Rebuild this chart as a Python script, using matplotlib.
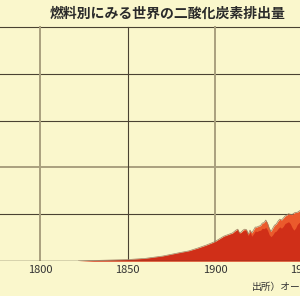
import matplotlib.pyplot as plt

plt.rcParams['font.family'] = ['Noto Sans CJK JP', 'DejaVu Sans']

# 年と排出量（グリッド1目盛 = 1000）
years = [1822, 1830, 1840, 1850, 1860, 1870, 1880, 1885, 1890, 1895,
         1900, 1905, 1910, 1912, 1913, 1914, 1915, 1916, 1917, 1918,
         1919, 1920, 1921, 1922, 1923, 1924, 1925, 1926, 1927, 1928,
         1929, 1930, 1931, 1932, 1933, 1934, 1935, 1936, 1937, 1938,
         1939, 1940, 1941, 1942, 1943, 1944, 1945, 1946, 1947, 1948,
         1950, 1955]
coal = [0, 10, 20, 30, 55, 105, 180, 215, 270, 335,
        410, 525, 590, 650, 665, 590, 605, 640, 655, 640,
        540, 620, 530, 580, 640, 630, 650, 655, 700, 690,
        720, 660, 560, 520, 560, 620, 640, 690, 730, 700,
        740, 800, 820, 840, 800, 720, 660, 700, 780, 820,
        860, 900]
total = [0, 10, 20, 30, 55, 105, 180, 215, 275, 340,
         415, 530, 600, 660, 680, 600, 620, 660, 680, 670,
         575, 660, 600, 660, 725, 725, 745, 755, 810, 820,
         875, 810, 700, 630, 700, 765, 790, 850, 895, 875,
         915, 960, 980, 1010, 1000, 990, 1020, 1040, 1040, 1065,
         1110, 1200]

xticks = [1800, 1850, 1900, 1950]
title = '燃料別にみる世界の二酸化炭素排出量'
source = '出所）オークリッジ国立研究所'

bg = '#FAF7CC'
dark = '#4A4232'
gray = '#A9A07E'

fig = plt.figure(figsize=(3.0, 2.96), dpi=100, facecolor=bg)
# 軸は右にはみ出させる（1950年のラベルが途中で切れるように）
ax = fig.add_axes([0, 35 / 296, 310 / 300, 241 / 296])
ax.set_facecolor(bg)
ax.set_xlim(1800 - 40 / 1.75, 1800 + 270 / 1.75)
ax.set_ylim(0, 241 / 46.8 * 1000)

for y in [1000, 3000, 4000, 5000]:
    ax.axhline(y, color=dark, lw=0.8, zorder=1)
ax.axhline(2000, color=gray, lw=1.4, zorder=1)
ymax = 5000 / ax.get_ylim()[1]
for x in [1800, 1900]:
    ax.axvline(x, 0, ymax, color=gray, lw=1.4, zorder=1)
for x in [1850, 1950]:
    ax.axvline(x, 0, ymax, color=dark, lw=0.8, zorder=1)

ax.fill_between(years, 0, total, color='#EB5A2C', lw=0, zorder=2)
ax.fill_between(years, 0, coal, color='#D02F18', lw=0, zorder=3)
ax.plot(years, total, color='#9C7D62', lw=0.5, zorder=4)
ax.axhline(0, color=dark, lw=1.0, zorder=5)

for s in ax.spines.values():
    s.set_visible(False)
ax.set_yticks([])
ax.set_xticks(xticks)
ax.set_xticklabels([str(t) for t in xticks], fontsize=8, color='#333333')
ax.tick_params(axis='x', length=0, pad=3)

fig.text(0.165, 0.977, title, fontsize=10, fontweight='bold',
         color='#2A2A2A', ha='left', va='top')
fig.text(0.84, 0.015, source, fontsize=7, color='#333333',
         ha='left', va='bottom')

fig.savefig('out.png', dpi=100, facecolor=bg)
